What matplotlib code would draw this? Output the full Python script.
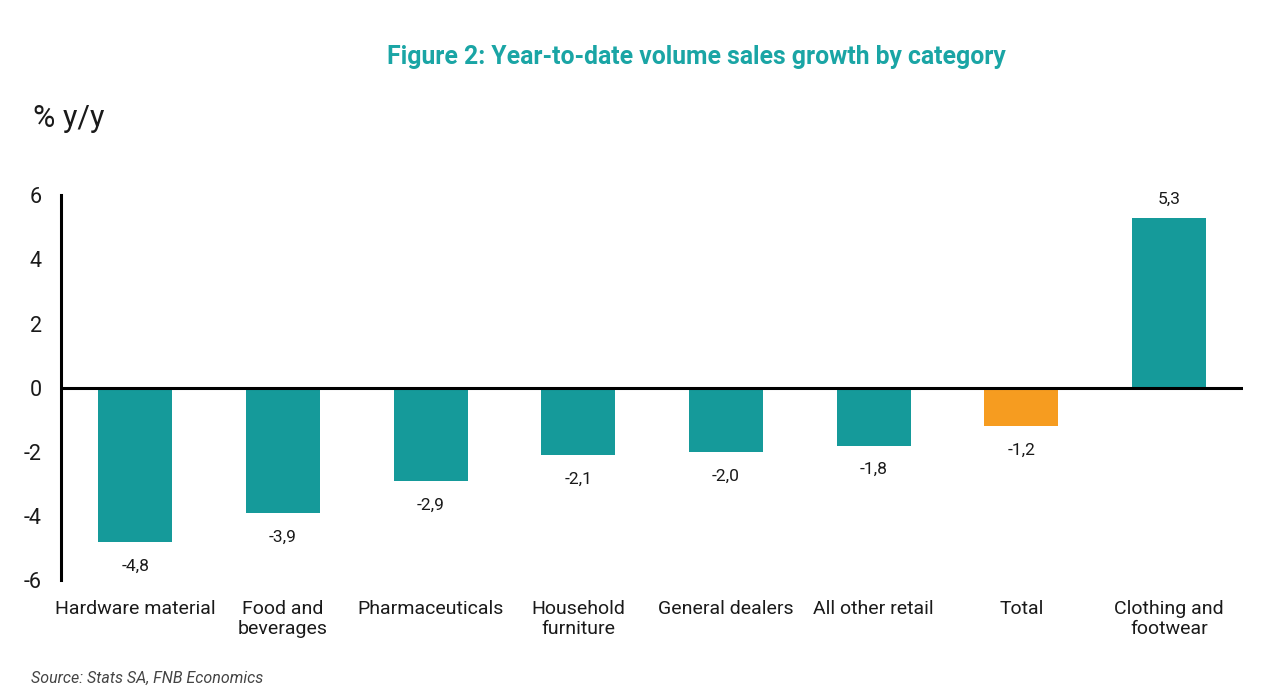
import matplotlib
matplotlib.use("Agg")
import matplotlib.pyplot as plt

categories = ["Hardware material", "Food and\nbeverages", "Pharmaceuticals", "Household\nfurniture",
              "General dealers", "All other retail", "Total", "Clothing and\nfootwear"]
values = [-4.8, -3.9, -2.9, -2.1, -2.0, -1.8, -1.2, 5.3]
highlight = "Total"

TEAL = "#159a9a"
ORANGE = "#f69c20"

plt.rcParams['font.family'] = ['Roboto', 'DejaVu Sans']

fig = plt.figure(figsize=(12.8, 7.0), dpi=100)
ax = fig.add_axes([0.048, 0.171, 0.923, 0.55])

colors = [ORANGE if c == highlight else TEAL for c in categories]
x = range(len(categories))
ax.bar(x, values, width=0.5, color=colors, zorder=2)

for xi, v in zip(x, values):
    label = f"{v:.1f}".replace(".", ",")
    if v >= 0:
        ax.annotate(label, (xi, v), xytext=(0, 8), textcoords="offset points",
                    ha="center", va="bottom", fontsize=12.5, color="#1a1a1a")
    else:
        ax.annotate(label, (xi, v), xytext=(0, -12), textcoords="offset points",
                    ha="center", va="top", fontsize=12.5, color="#1a1a1a")

ax.axhline(0, color="black", lw=2.2, zorder=3)
ax.set_xlim(-0.5, len(categories) - 0.5)
ax.set_ylim(-6, 6)
ax.set_yticks([-6, -4, -2, 0, 2, 4, 6])
ax.set_yticklabels(["-6", "-4", "-2", "0", "2", "4", "6"], fontsize=15.5, color="#1a1a1a")
ax.set_xticks(list(x))
ax.set_xticklabels(categories, fontsize=14, linespacing=1.15, color="#1a1a1a")
ax.tick_params(axis="both", length=0)
ax.tick_params(axis="y", pad=14)
ax.tick_params(axis="x", pad=14)

for s in ["top", "right", "bottom"]:
    ax.spines[s].set_visible(False)
ax.spines["left"].set_linewidth(2.2)

fig.text(0.544, 0.918, "Figure 2: Year-to-date volume sales growth by category",
         ha="center", va="center", fontsize=17.8, fontweight="bold", color="#1aa5a5")
fig.text(0.026, 0.831, "% y/y", ha="left", va="center", fontsize=22, color="#1a1a1a")
fig.text(0.024, 0.031, "Source: Stats SA, FNB Economics", ha="left", va="center",
         fontsize=11.5, style="italic", color="#444444")

fig.savefig("out.png", dpi=100)
